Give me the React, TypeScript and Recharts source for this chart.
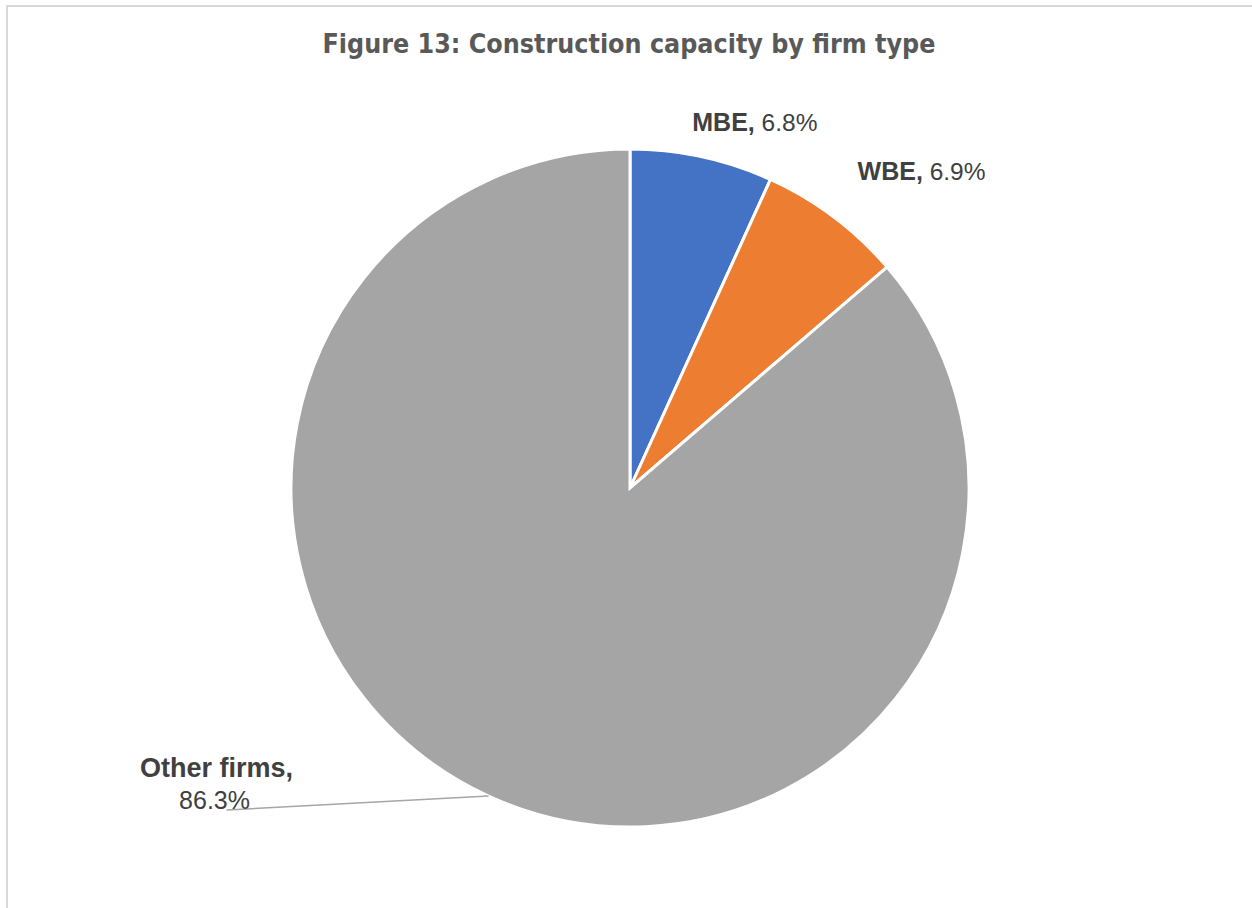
import { PieChart, Pie, Cell } from 'recharts'

const categories = ['MBE', 'WBE', 'Other firms']
const shares = [6.8, 6.9, 86.3]
const colors = ['#4472C4', '#ED7D31', '#A5A5A5']

const pieData = categories.map((name, i) => ({ name, value: shares[i] }))

// label anchor offsets from the slice's outer edge point
const labelOffsets: Record<string, { dx: number; dy: number; leader: boolean }> = {
  MBE: { dx: 53, dy: -35, leader: false },
  WBE: { dx: 88, dy: -46, leader: false },
  'Other firms': { dx: -262, dy: 14, leader: true },
}

const RADIAN = Math.PI / 180
const W = 1252
const H = 908
const labelFont = "'Liberation Sans', Arial, sans-serif"

const renderLabel = (props: any) => {
  const { cx, cy, midAngle, outerRadius, name, value } = props
  const ox = cx + outerRadius * Math.cos(-midAngle * RADIAN)
  const oy = cy + outerRadius * Math.sin(-midAngle * RADIAN)
  const off = labelOffsets[name]
  const x = ox + off.dx
  const y = oy + off.dy
  const pct = `${value.toFixed(1)}%`

  if (off.leader) {
    return (
      <g>
        <line x1={ox} y1={oy} x2={x} y2={y} stroke="#a6a6a6" strokeWidth={1.5} />
        <text x={x - 10} y={y - 42} textAnchor="middle" dominantBaseline="central" fill="#404040" fontFamily={labelFont} fontSize={27}>
          <tspan fontWeight="bold">{name},</tspan>
        </text>
        <text x={x - 12} y={y - 10} textAnchor="middle" dominantBaseline="central" fill="#404040" fontFamily={labelFont} fontSize={25}>
          {pct}
        </text>
      </g>
    )
  }
  return (
    <text x={x} y={y} textAnchor="middle" dominantBaseline="central" fill="#404040" fontFamily={labelFont} fontSize={25}>
      <tspan fontWeight="bold">{name},</tspan>
      <tspan fontSize={24.5}> {pct}</tspan>
    </text>
  )
}

export default function App() {
  return (
    <div style={{ position: 'fixed', left: 0, top: 0, width: W, height: H, overflow: 'hidden', background: '#fff' }}>
      <div
        style={{
          position: 'absolute',
          left: 6,
          top: 5,
          width: W + 40,
          height: H + 40,
          border: '2px solid #d9d9d9',
          boxSizing: 'border-box',
        }}
      />
      <div
        style={{
          position: 'absolute',
          left: 0,
          top: 28,
          width: 1258,
          textAlign: 'center',
          fontFamily: "'DejaVu Sans Condensed', 'DejaVu Sans', sans-serif",
          fontWeight: 'bold',
          fontSize: 26.6,
          color: '#595959',
        }}
      >
        Figure 13: Construction capacity by firm type
      </div>
      <div style={{ position: 'absolute', left: 0, top: 0 }}>
        <PieChart width={W} height={H} margin={{ top: 0, right: 0, bottom: 0, left: 0 }}>
          <Pie
            data={pieData}
            dataKey="value"
            nameKey="name"
            cx={630}
            cy={488}
            outerRadius={339}
            startAngle={90}
            endAngle={-270}
            stroke="#ffffff"
            strokeWidth={3}
            label={renderLabel}
            labelLine={false}
            isAnimationActive={false}
          >
            {pieData.map((d, i) => (
              <Cell key={d.name} fill={colors[i]} />
            ))}
          </Pie>
        </PieChart>
      </div>
    </div>
  )
}
